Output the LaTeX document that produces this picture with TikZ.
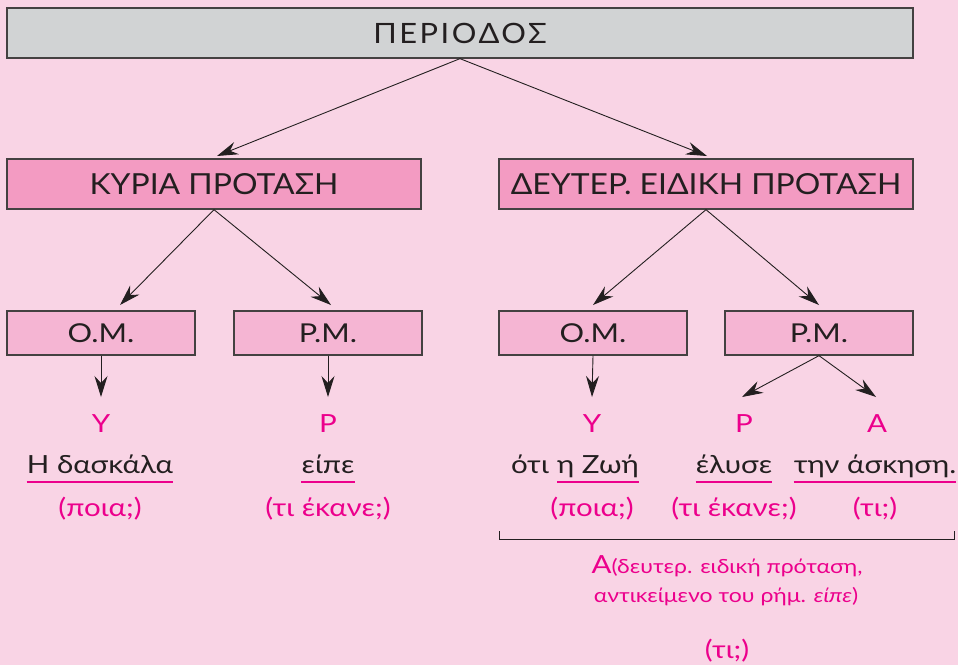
\documentclass[tikz,border=0pt]{standalone}
\usepackage{fontspec}
\setmainfont{Lato}[FakeStretch=1.18]
\newfontfamily\headfont[FakeStretch=1.1]{Lato}
\newfontfamily\topfont[FakeStretch=1.1,LetterSpace=9]{Lato}
\usetikzlibrary{arrows.meta}
\definecolor{bgpink}{RGB}{249,212,229}
\definecolor{boxgray}{RGB}{209,211,212}
\definecolor{headpink}{RGB}{243,155,194}
\definecolor{subpink}{RGB}{245,181,211}
\definecolor{mag}{RGB}{236,0,140}
\definecolor{ink}{RGB}{35,31,32}
\tikzset{
  box/.style={draw=ink!85, line width=1.3pt, inner sep=0pt, text=ink},
  topbox/.style={box, fill=boxgray, minimum width=906pt, minimum height=50pt, font=\topfont\fontsize{28}{30}\selectfont},
  headbox/.style={box, fill=headpink, minimum width=414pt, minimum height=50pt, font=\headfont\fontsize{29}{31}\selectfont},
  subbox/.style={box, fill=subpink, minimum width=188pt, minimum height=44pt, font=\fontsize{26}{28}\selectfont},
  arr/.style={draw=ink, line width=0.9pt, -{Stealth[length=21pt,width=13pt,inset=7pt]}},
  letter/.style={text=mag, inner sep=0pt, anchor=base, font=\fontsize{25}{27}\selectfont},
  word/.style={text=ink, inner sep=0pt, anchor=base, font=\fontsize{25}{27}\selectfont},
  quest/.style={text=mag, inner sep=0pt, anchor=base, font=\fontsize{25}{27}\selectfont},
  uline/.style={draw=mag, line width=1.2pt},
  note/.style={text=mag, inner sep=0pt, anchor=base, font=\fontsize{19.5}{21}\selectfont},
}
\begin{document}
\begin{tikzpicture}[x=1pt,y=-1pt]
\useasboundingbox[fill=bgpink] (0,0) rectangle (958,665);
% boxes
\node[topbox] (per) at (460,33) {ΠΕΡΙΟΔΟΣ};
\node[headbox] (kp) at (214,184) {ΚΥΡΙΑ ΠΡΟΤΑΣΗ};
\node[headbox] (dp) at (706,184) {ΔΕΥΤΕΡ. ΕΙΔΙΚΗ ΠΡΟΤΑΣΗ};
\node[subbox] (om1) at (101,333) {Ο.Μ.};
\node[subbox] (pm1) at (328,333) {Ρ.Μ.};
\node[subbox] (om2) at (593,333) {Ο.Μ.};
\node[subbox] (pm2) at (819,333) {Ρ.Μ.};
% arrow targets
\coordinate (t1) at (217,156);
\coordinate (t2) at (707,156);
\coordinate (t3) at (120,305);
\coordinate (t4) at (331,305);
\coordinate (t5) at (593,305);
\coordinate (t6) at (819,305);
\coordinate (t7) at (101,397);
\coordinate (t8) at (328,397);
\coordinate (t9) at (592,397);
\coordinate (t10) at (742,397);
\coordinate (t11) at (876,397);
% letters
\node[letter] (y1) at (101,432) {Υ};
\node[letter] (r1) at (328,432) {Ρ};
\node[letter] (y2) at (592,432) {Υ};
\node[letter] (r2) at (744,432) {Ρ};
\node[letter] (a2) at (877,432) {Α};
% arrows
\draw[arr] (per.south) -- (t1);
\draw[arr] (per.south) -- (t2);
\draw[arr] (kp.south) -- (t3);
\draw[arr] (kp.south) -- (t4);
\draw[arr] (dp.south) -- (t5);
\draw[arr] (dp.south) -- (t6);
\draw[arr] (om1.south) -- (t7);
\draw[arr] (pm1.south) -- (t8);
\draw[arr] (om2.south) -- (t9);
\draw[arr] (pm2.south) -- (t10);
\draw[arr] (pm2.south) -- (t11);
% words
\node[word] (w1) at (100,473) {Η δασκάλα};
\node[word] (w2) at (328,473) {είπε};
\node[word, anchor=base east] (w3a) at (549,473) {ότι};
\node[word, anchor=base west] (w3b) at (557,473) {η Ζωή};
\node[word] (w4) at (734,473) {έλυσε};
\node[word] (w5) at (875,473) {την άσκηση.};
\draw[uline] ([yshift=-9pt]w1.base west) -- ([yshift=-9pt]w1.base east);
\draw[uline] ([yshift=-9pt]w2.base west) -- ([yshift=-9pt]w2.base east);
\draw[uline] ([yshift=-9pt]w3b.base west) -- ([yshift=-9pt]w3b.base east);
\draw[uline] ([yshift=-9pt]w4.base west) -- ([yshift=-9pt]w4.base east);
\draw[uline] ([yshift=-9pt]w5.base west) -- ([yshift=-9pt]w5.base east);
% questions
\node[quest] (q1) at (100,516) {(ποια;)};
\node[quest] (q2) at (328,516) {(τι έκανε;)};
\node[quest] (q3) at (592,516) {(ποια;)};
\node[quest] (q4) at (734,516) {(τι έκανε;)};
\node[quest] (q5) at (875,516) {(τι;)};
% bracket
\coordinate (bl) at (499,539);
\coordinate (br) at (954,539);
\draw[draw=ink, line width=1pt] ([yshift=8pt]bl) -- (bl) -- (br) -- ([yshift=8pt]br);
% note
\node[note] (n1) at (727,573) {{\fontsize{25}{27}\selectfont Α}(δευτερ. ειδική πρόταση,};
\node[note] (n2) at (726,602) {αντικείμενο του ρήμ. \textit{είπε})};
\node[quest] (q6) at (727,658) {(τι;)};
\end{tikzpicture}
\end{document}
